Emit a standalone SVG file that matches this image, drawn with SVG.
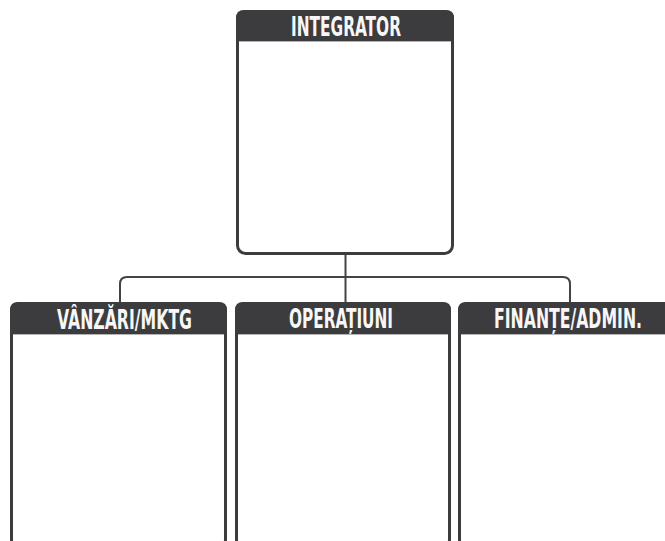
<svg xmlns="http://www.w3.org/2000/svg" width="665" height="541" viewBox="0 0 665 541">
  <style>
    .box { fill: #ffffff; stroke: #3c3c3e; stroke-width: 3; }
    .hdr { fill: #3c3c3e; }
    .sep { stroke: #b5b5b5; stroke-width: 1; }
    .lbl { font-family: "Liberation Sans Narrow", "DejaVu Sans Condensed", "Liberation Sans", sans-serif; font-weight: bold; font-size: 26px; fill: #f7f7f7; text-anchor: middle; }
    .conn { fill: none; stroke: #444446; stroke-width: 2; }
  </style>
  <rect width="665" height="541" fill="#ffffff"/>
  <g id="connectors">
    <path class="conn" d="M345.5 254 V302"/>
    <path class="conn" d="M120 302 V284 Q120 277 127 277 H563 Q570 277 570 284 V302"/>
  </g>
  <g id="integrator">
    <rect class="box" x="237.5" y="11.5" width="215" height="242" rx="8"/>
    <path class="hdr" d="M236 41 V18 Q236 10 244 10 H446 Q454 10 454 18 V41 Z"/>
    <line class="sep" x1="239" y1="41.5" x2="451" y2="41.5"/>
    <text class="lbl" x="346" y="35.5" textLength="110" lengthAdjust="spacingAndGlyphs">INTEGRATOR</text>
  </g>
  <g id="vanzari">
    <rect class="box" x="11.5" y="303.5" width="214" height="244" rx="8"/>
    <path class="hdr" d="M10 334 V310 Q10 302 18 302 H219 Q227 302 227 310 V334 Z"/>
    <line class="sep" x1="13" y1="334.5" x2="224" y2="334.5"/>
    <text class="lbl" x="124.5" y="328.5" textLength="135" lengthAdjust="spacingAndGlyphs">VÂNZĂRI/MKTG</text>
  </g>
  <g id="operatiuni">
    <rect class="box" x="236.5" y="303.5" width="213" height="244" rx="8"/>
    <path class="hdr" d="M235 334 V310 Q235 302 243 302 H443 Q451 302 451 310 V334 Z"/>
    <line class="sep" x1="238" y1="334.5" x2="448" y2="334.5"/>
    <text class="lbl" x="341" y="328" textLength="104" lengthAdjust="spacingAndGlyphs">OPERAȚIUNI</text>
  </g>
  <g id="finante">
    <rect class="box" x="459.5" y="303.5" width="214" height="244" rx="8"/>
    <path class="hdr" d="M458 334 V310 Q458 302 466 302 H667 Q675 302 675 310 V334 Z"/>
    <line class="sep" x1="461" y1="334.5" x2="672" y2="334.5"/>
    <text class="lbl" x="568" y="328" textLength="148" lengthAdjust="spacingAndGlyphs">FINANȚE/ADMIN.</text>
  </g>
</svg>
